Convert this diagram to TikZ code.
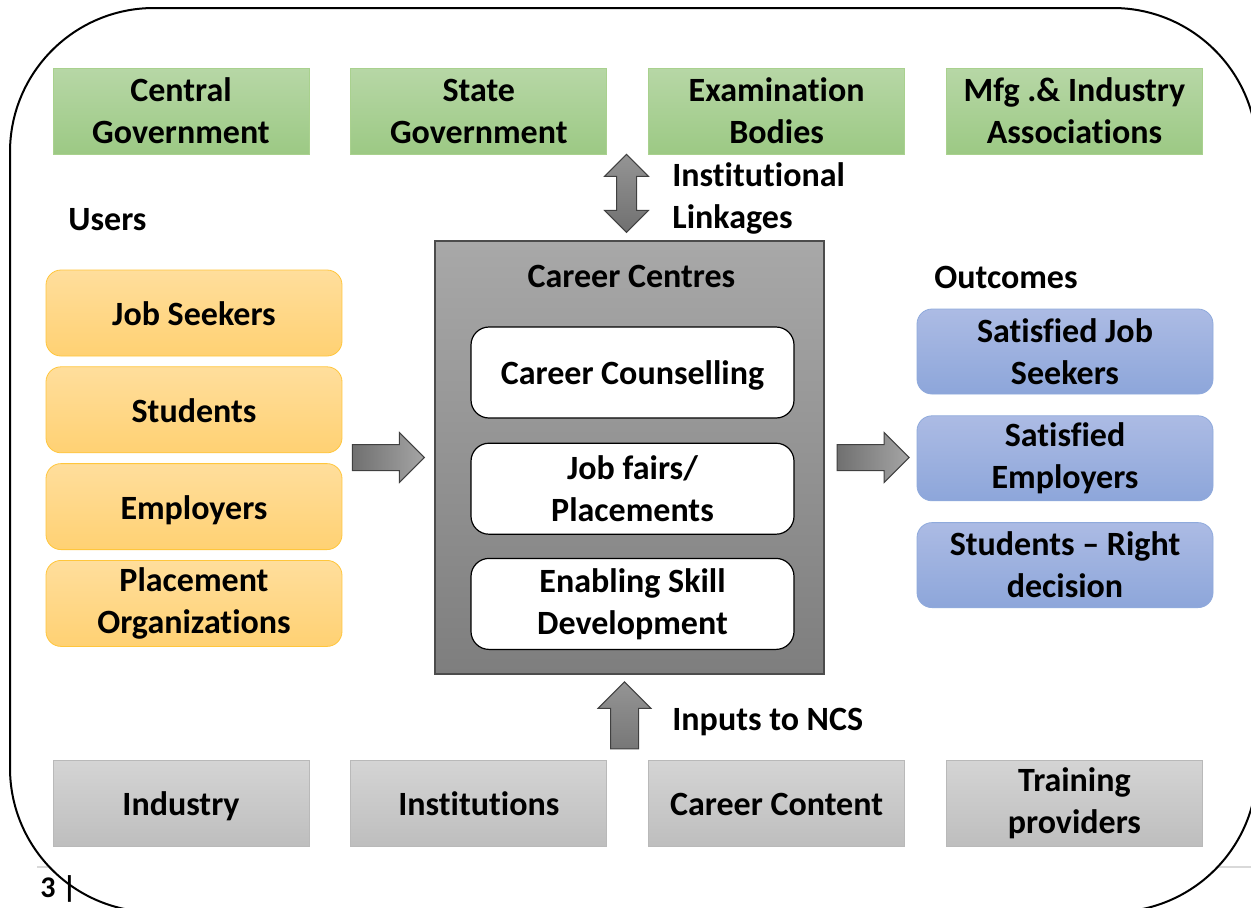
\documentclass[tikz,border=0pt]{standalone}
\usepackage{fontspec}
\setmainfont{Carlito}[Ligatures={NoCommon}]
\usetikzlibrary{shapes,shapes.arrows,calc,positioning}
\definecolor{grntop}{RGB}{183,215,166}
\definecolor{grnbot}{RGB}{156,201,132}
\definecolor{grnline}{RGB}{169,209,142}
\definecolor{grytop}{RGB}{212,212,212}
\definecolor{grybot}{RGB}{190,190,190}
\definecolor{gryline}{RGB}{185,185,185}
\definecolor{orgtop}{RGB}{255,222,156}
\definecolor{orgbot}{RGB}{255,209,115}
\definecolor{orgline}{RGB}{255,198,60}
\definecolor{blutop}{RGB}{172,187,228}
\definecolor{blubot}{RGB}{141,166,218}
\definecolor{bluline}{RGB}{143,170,220}
\definecolor{cctop}{RGB}{168,168,168}
\definecolor{ccbot}{RGB}{126,126,126}
\definecolor{arrdark}{RGB}{112,112,112}
\definecolor{arrlight}{RGB}{165,165,165}
\tikzset{
    every node/.style={font=\bfseries\fontsize{17}{21}\selectfont, align=center, inner sep=0pt},
    oneline/.style={text height=13pt, text depth=0.6pt},
    linkbox/.style={rectangle, draw=grnline, top color=grntop, bottom color=grnbot, minimum width=128pt, minimum height=43pt},
    inputbox/.style={rectangle, draw=gryline, top color=grytop, bottom color=grybot, minimum width=128pt, minimum height=43pt},
    userbox/.style={rectangle, rounded corners=7.5pt, draw=orgline, top color=orgtop, bottom color=orgbot, minimum width=148pt, minimum height=43pt},
    outbox/.style={rectangle, rounded corners=7.5pt, draw=bluline, top color=blutop, bottom color=blubot, minimum width=148pt, minimum height=42.5pt},
    label/.style={anchor=west, align=left}
}
\begin{document}
\begin{tikzpicture}[x=0.5pt,y=-0.5pt,
centrebox/.style={rectangle, draw=black!70, line width=0.6pt, top color=cctop, bottom color=ccbot, minimum width=194.5pt, minimum height=216.5pt},
servbox/.style={rectangle, rounded corners=9pt, draw=black, line width=0.6pt, fill=white, minimum width=161.5pt, minimum height=45.5pt},
blockarrow/.style={draw=black!75, line width=0.5pt, single arrow, inner sep=6.25pt, single arrow head extend=6pt, minimum height=36pt, left color=arrdark, right color=arrlight},
twoarrow/.style={draw=black!75, line width=0.5pt, double arrow, inner sep=4.75pt, double arrow head extend=6pt, shape border rotate=90, minimum height=39pt, top color=arrlight!90!black, bottom color=arrdark},
uparrow/.style={draw=black!75, line width=0.5pt, single arrow, inner sep=6.75pt, single arrow head extend=6.25pt, shape border rotate=90, minimum height=33.5pt, top color=arrlight!90!black, bottom color=arrdark!95!white}]
\useasboundingbox (0,0) rectangle (1251,907);
% page footer line and frame
\coordinate (fl) at (37,867);
\coordinate (fr) at (1251,867);
\draw[black!15, line width=0.6pt] (fl) -- (fr);
\draw[rounded corners=72pt, fill=white, line width=1pt] (10,8) rectangle (1257,912);
\node[anchor=west, font=\bfseries\fontsize{15}{18}\selectfont] (pg) at (40,889) {3 |};

% institutional linkages
\node[linkbox] (cg) at (181,111) {Central\\Government};
\node[linkbox, right=20.5pt of cg] (sg) {State\\Government};
\node[linkbox, right=20.5pt of sg] (eb) {Examination\\Bodies};
\node[linkbox, right=20.5pt of eb] (mia) {Mfg .\& Industry\\Associations};

% inputs
\node[inputbox, oneline] (ind) at (181,803.5) {Industry};
\node[inputbox, oneline, right=20.5pt of ind] (ins) {Institutions};
\node[inputbox, oneline, right=20.5pt of ins] (ccon) {Career Content};
\node[inputbox, right=20.5pt of ccon] (tp) {Training\\providers};

% users
\node[label, oneline] (usr) at (68,218) {Users};
\node[userbox, oneline] (js) at (194,313) {Job Seekers};
\node[userbox, oneline, below=5pt of js] (st) {Students};
\node[userbox, oneline, below=5pt of st] (em) {Employers};
\node[userbox, below=5pt of em] (po) {Placement\\Organizations};

% career centres
\node[centrebox] (cc) at (629.5,457.5) {};
\node[oneline] (cct) at ($(cc.north)+(2,35)$) {Career Centres};
\node[servbox, oneline] (cs) at (632.5,372.5) {Career Counselling};
\node[servbox, below=12pt of cs] (jf) {Job fairs/\\Placements};
\node[servbox, below=11.5pt of jf] (sd) {Enabling Skill\\Development};

% outcomes
\node[label, oneline] (out) at (934,276) {Outcomes};
\node[outbox] (o1) at (1065,351.5) {Satisfied Job\\Seekers};
\node[outbox, below=10.5pt of o1] (o2) {Satisfied\\Employers};
\node[outbox, below=10.5pt of o2] (o3) {Students -- Right\\decision};

% block arrows
\node[blockarrow] (a1) at ($(js.east |- cc.west)!0.5!(cc.west)+(-6.5,0)$) {};
\node[blockarrow] (a2) at ($(cc.east)!0.5!(o2.west |- cc.east)+(-4,0)$) {};
\node[twoarrow] (a3) at ($(cc.north)!0.5!(cc.north |- eb.south)+(-3,-4)$) {};
\node[uparrow] (a4) at ($(cc.south)!0.5!(cc.south |- ccon.north)+(-5,5)$) {};
\node[label] (lnk) at (672,198) {Institutional\\Linkages};
\node[label, oneline] (inp) at (672,718) {Inputs to NCS};
\end{tikzpicture}
\end{document}
